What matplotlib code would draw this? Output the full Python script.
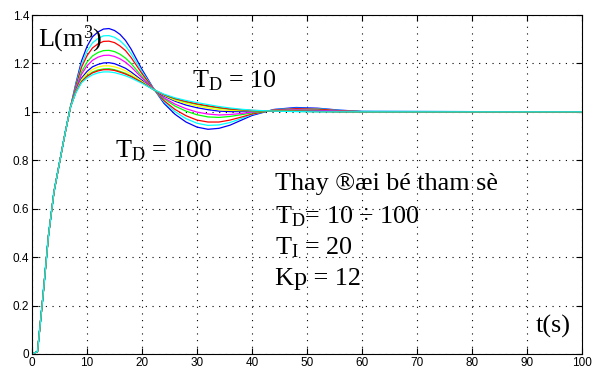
import numpy as np
import matplotlib
matplotlib.use("Agg")
import matplotlib.pyplot as plt

plt.rcParams['mathtext.fontset'] = 'custom'
plt.rcParams['mathtext.rm'] = 'Liberation Serif'
plt.rcParams['mathtext.it'] = 'Liberation Serif:italic'

# shared start of all responses (t = 0..7 s)
t_rise = [0, 1, 2, 3, 4, 5, 6, 7]
level_rise = [0, 0.01, 0.24, 0.49, 0.67, 0.79, 0.91, 1.02]

# after the rise, one curve per T_D value
t_tail = [8, 9, 10, 11, 12, 13, 14, 15, 16, 17, 18, 20, 22, 24, 26, 28, 30,
          32, 34, 36, 38, 40, 44, 48, 52, 56, 60, 100]

level_1 = [1.12, 1.21, 1.27, 1.31, 1.33, 1.342, 1.344, 1.336, 1.32, 1.295, 1.26, 1.175, 1.10, 1.035,
           0.99, 0.958, 0.937, 0.928, 0.932, 0.945, 0.965, 0.985, 1.01, 1.018, 1.015, 1.007, 1.002, 1.0]
level_2 = [1.114, 1.196, 1.249, 1.285, 1.303, 1.314, 1.315, 1.308, 1.294, 1.272, 1.241, 1.166, 1.099, 1.041,
           1.001, 0.972, 0.953, 0.944, 0.946, 0.956, 0.972, 0.989, 1.009, 1.015, 1.013, 1.006, 1.002, 1.0]
level_3 = [1.108, 1.184, 1.232, 1.264, 1.281, 1.291, 1.292, 1.286, 1.272, 1.253, 1.225, 1.158, 1.098, 1.046,
           1.010, 0.984, 0.966, 0.958, 0.958, 0.966, 0.978, 0.991, 1.008, 1.013, 1.011, 1.005, 1.001, 1.0]
level_4 = [1.10, 1.165, 1.205, 1.231, 1.245, 1.253, 1.254, 1.249, 1.238, 1.222, 1.20, 1.146, 1.096, 1.054,
           1.024, 1.003, 0.988, 0.979, 0.977, 0.981, 0.988, 0.996, 1.006, 1.009, 1.007, 1.003, 1.001, 1.0]
level_5 = [1.095, 1.155, 1.19, 1.213, 1.226, 1.233, 1.234, 1.229, 1.219, 1.205, 1.186, 1.14, 1.096, 1.058,
           1.032, 1.013, 0.999, 0.991, 0.987, 0.989, 0.993, 0.999, 1.006, 1.008, 1.006, 1.003, 1.001, 1.0]
level_6 = [1.088, 1.139, 1.167, 1.186, 1.196, 1.202, 1.203, 1.199, 1.19, 1.18, 1.165, 1.13, 1.094, 1.065,
           1.044, 1.028, 1.017, 1.009, 1.003, 1.001, 1.001, 1.002, 1.004, 1.005, 1.003, 1.001, 1.0, 1.0]
level_7 = [1.086, 1.133, 1.158, 1.175, 1.185, 1.19, 1.19, 1.186, 1.179, 1.169, 1.157, 1.126, 1.094, 1.068,
           1.048, 1.035, 1.024, 1.016, 1.009, 1.006, 1.005, 1.004, 1.004, 1.003, 1.002, 1.001, 1.0, 1.0]
level_8 = [1.083, 1.126, 1.149, 1.164, 1.173, 1.177, 1.178, 1.174, 1.167, 1.159, 1.148, 1.122, 1.093, 1.07,
           1.053, 1.041, 1.031, 1.023, 1.016, 1.011, 1.008, 1.005, 1.003, 1.002, 1.001, 1.0, 1.0, 1.0]
level_9 = [1.082, 1.124, 1.146, 1.161, 1.169, 1.174, 1.174, 1.171, 1.164, 1.156, 1.146, 1.121, 1.093, 1.071,
           1.055, 1.043, 1.033, 1.025, 1.018, 1.012, 1.009, 1.006, 1.003, 1.002, 1.001, 1.0, 1.0, 1.0]
level_10 = [1.08, 1.12, 1.14, 1.153, 1.161, 1.165, 1.165, 1.162, 1.156, 1.149, 1.14, 1.118, 1.093, 1.073,
            1.058, 1.047, 1.038, 1.03, 1.022, 1.016, 1.011, 1.007, 1.003, 1.001, 1.0, 1.0, 1.0, 1.0]

levels = [level_1, level_2, level_3, level_4, level_5,
          level_6, level_7, level_8, level_9, level_10]
colors = ['#0000ff', '#00ffff', '#ff0000', '#00ff00', '#ff00ff',
          '#0000ff', '#ffff00', '#00ff00', '#ff0000', '#00ffff']

fig = plt.figure(figsize=(5.93, 3.76), dpi=100)
ax = fig.add_axes([32/593, 22/376, 550/593, 339/376])

for lev, c in zip(levels, colors):
    ax.plot(t_rise + t_tail, level_rise + lev, color=c, lw=0.9)

ax.set_xlim(0, 100)
ax.set_ylim(0, 1.4)
ax.set_xticks(np.arange(0, 101, 10))
ax.set_yticks([0, 0.2, 0.4, 0.6, 0.8, 1.0, 1.2, 1.4])
ax.set_yticklabels(['0', '0.2', '0.4', '0.6', '0.8', '1', '1.2', '1.4'])
ax.grid(True, linestyle=(0, (1, 5)), color='black', linewidth=0.8)
ax.tick_params(direction='in', top=True, right=True, length=4, width=0.8,
               labelsize=8.5, pad=2)
for lab in ax.get_xticklabels() + ax.get_yticklabels():
    lab.set_family('Liberation Sans')
for s in ax.spines.values():
    s.set_linewidth(0.8)

serif = 'Liberation Serif'
fs = 18.8
ax.text(1.1, 1.268, 'L(m$^3$)', family=serif, fontsize=fs)
ax.text(29, 1.103, r'$\mathrm{T_D}$ = 10', family=serif, fontsize=fs)
ax.text(15.1, 0.81, r'$\mathrm{T_D}$ = 100', family=serif, fontsize=fs)
ax.text(44.2, 0.677, 'Thay ®æi bé tham sè', family=serif, fontsize=fs)
ax.text(44.2, 0.54, r'$\mathrm{T_D}$= 10 ÷ 100', family=serif, fontsize=fs)
ax.text(44.2, 0.41, r'$\mathrm{T_I}$ = 20', family=serif, fontsize=fs)
ax.text(44.2, 0.285, 'Kp = 12', family=serif, fontsize=fs)
ax.text(91.5, 0.09, 't(s)', family=serif, fontsize=fs)

fig.savefig('out.png', dpi=100)
